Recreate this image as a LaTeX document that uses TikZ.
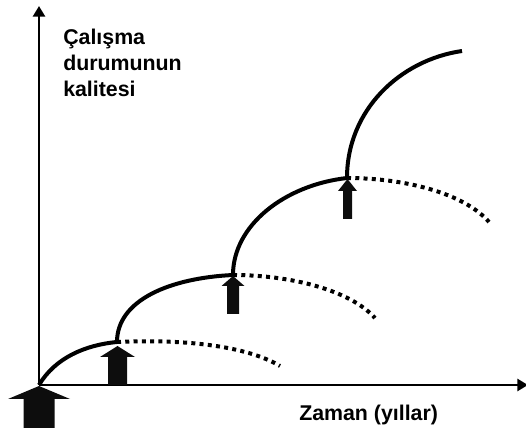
\documentclass[tikz,border=0pt]{standalone}
\usepackage{fontspec}
\setmainfont{Liberation Sans}
\usetikzlibrary{arrows.meta}

% filled block arrow pointing up: #1 x, #2 tip y, #3 head half width, #4 head length, #5 shaft half width, #6 bottom y
\newcommand{\blockarrow}[6]{%
  \fill[black!95] (#1,#2) -- ({#1+#3},{#2+#4}) -- ({#1+#5},{#2+#4}) -- ({#1+#5},#6)
    -- ({#1-#5},#6) -- ({#1-#5},{#2+#4}) -- ({#1-#3},{#2+#4}) -- cycle;}

\begin{document}
\begin{tikzpicture}[
    x=0.75pt, y=-0.75pt,
    axis/.style={line width=2.2pt, -{Triangle[length=8pt, width=9pt]}},
    growth/.style={line width=3pt},
    decline/.style={line width=3pt, dash pattern=on 3pt off 3.2pt},
    label/.style={font=\bfseries\fontsize{16}{19.5}\selectfont, align=left, inner sep=0pt}
  ]
  \useasboundingbox (0,0) rectangle (526,435);

  % axes
  \coordinate (o) at (39,385);
  \coordinate (ytip) at (39,6);
  \coordinate (xtip) at (528,385);
  \draw[axis] (o) -- (ytip);
  \draw[axis] (o) -- (xtip);

  % junction points
  \coordinate (j1) at (117,342);
  \coordinate (j2) at (233,275);
  \coordinate (j3) at (347,178);
  \coordinate (top) at (462,51);

  % solid growth curves
  \draw[growth] (o) .. controls (55,358) and (85,345) .. (j1);
  \draw[growth] (j1) .. controls (117,300) and (170,278) .. (j2);
  \draw[growth] (j2) .. controls (233,225) and (285,185) .. (j3);
  \draw[growth] (j3) .. controls (347,110) and (400,60) .. (top);

  % dotted continuations
  \coordinate (d1) at (280,366);
  \coordinate (d2) at (375,318);
  \coordinate (d3) at (489,222);
  \draw[decline] (j1) .. controls (180,339) and (245,345) .. (d1);
  \draw[decline] (j2) .. controls (290,275) and (350,290) .. (d2);
  \draw[decline] (j3) .. controls (404,178) and (464,193) .. (d3);

  % block arrows
  \blockarrow{39}{386}{31}{13}{15.5}{428}
  \blockarrow{117.5}{346}{17.5}{11}{9.5}{385}
  \blockarrow{233}{276}{11.5}{10}{6}{314}
  \blockarrow{347.5}{179}{9.5}{12}{4.5}{219}

  % labels
  \node[label, anchor=base west] (quality) at (63,97) {Çalışma\\durumunun\\kalitesi};
  \node[label, anchor=base west] (time) at (299,421) {Zaman (yıllar)};
\end{tikzpicture}
\end{document}
